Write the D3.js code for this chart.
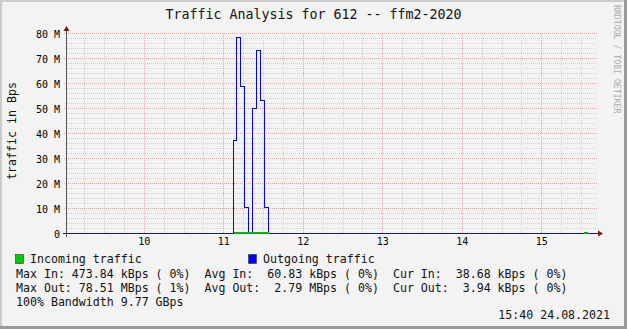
<!DOCTYPE html>
<html>
<head>
<meta charset="utf-8">
<style>
  body { margin: 0; background: #f3f3f3; }
  svg { display: block; font-family: "DejaVu Sans Mono", monospace; }
</style>
</head>
<body>
<svg width="627" height="329"></svg>
<script src="https://cdn.jsdelivr.net/npm/d3@7/dist/d3.min.js"></script>
<script>
// time in minutes since midnight, values in MBps
const timeDomain = [542, 942];
const hourTicks = [600, 660, 720, 780, 840, 900];
const hourLabels = ["10", "11", "12", "13", "14", "15"];
const valueTicks = [0, 10, 20, 30, 40, 50, 60, 70, 80];
const valueLabels = ["0", "10 M", "20 M", "30 M", "40 M", "50 M", "60 M", "70 M", "80 M"];

const outTimes  = [542, 667.6, 669.8, 672.8, 675.8, 678.8, 681.8, 684.9, 687.9, 690.9, 693.9, 942];
const outValues = [0,   37.3,  78.5,  58.8,  10.4,  0,     50.0,  73.2,  53.2,  10.4,  0,     0];

const inTimes  = [542, 667.6, 693.9, 931.5, 934.5, 942];
const inValues = [0,   0.40,  0,     0.47,  0,     0];

const legendRows = [
  "Max In: 473.84 kBps ( 0%)  Avg In:  60.83 kBps ( 0%)  Cur In:  38.68 kBps ( 0%)",
  "Max Out: 78.51 MBps ( 1%)  Avg Out:  2.79 MBps ( 0%)  Cur Out:  3.94 kBps ( 0%)",
  "100% Bandwidth 9.77 GBps"
];

const W = 627, H = 329;
const svg = d3.select("svg");

// background + 3d shade border
svg.append("rect").attr("width", W).attr("height", H).attr("fill", "#f3f3f3");
svg.append("rect").attr("x", 0).attr("y", 0).attr("width", W).attr("height", 2).attr("fill", "#cbcbcb");
svg.append("rect").attr("x", 0).attr("y", 0).attr("width", 2).attr("height", H).attr("fill", "#cbcbcb");
svg.append("rect").attr("x", W - 3).attr("y", 0).attr("width", 3).attr("height", H).attr("fill", "#999");
svg.append("rect").attr("x", 0).attr("y", H - 3).attr("width", W).attr("height", 3).attr("fill", "#999");

const x = d3.scaleLinear().domain(timeDomain).range([67, 597]);
const y = d3.scaleLinear().domain([0, 80]).range([233.5, 33.5]);
const px = t => Math.round(x(t)) + 0.5;

// grid
const grid = svg.append("g").attr("shape-rendering", "crispEdges");
const minorX = d3.range(555, 942, 15).filter(t => t % 60 !== 0);
const minorY = d3.range(2, 81, 2).filter(v => v % 10 !== 0);

grid.selectAll(".mx").data(minorX).join("line")
  .attr("x1", px).attr("x2", px).attr("y1", y(80)).attr("y2", y(0))
  .attr("stroke", "#d0d0d0").attr("stroke-dasharray", "1,1");
grid.selectAll(".my").data(minorY).join("line")
  .attr("x1", 67).attr("x2", 597).attr("y1", d => y(d)).attr("y2", d => y(d))
  .attr("stroke", "#d0d0d0").attr("stroke-dasharray", "1,1");
grid.selectAll(".Mx").data(hourTicks).join("line")
  .attr("x1", px).attr("x2", px).attr("y1", y(80)).attr("y2", y(0))
  .attr("stroke", "#eaa6a6").attr("stroke-dasharray", "1,1");
grid.selectAll(".My").data(valueTicks.slice(1)).join("line")
  .attr("x1", 64).attr("x2", 597).attr("y1", d => y(d)).attr("y2", d => y(d))
  .attr("stroke", "#eaa6a6").attr("stroke-dasharray", "1,1");

// outgoing line
const outData = outTimes.map((t, i) => [t, outValues[i]]);
svg.append("path")
  .datum(outData)
  .attr("fill", "none")
  .attr("stroke", "#0000ff")
  .attr("stroke-width", 1)
  .attr("shape-rendering", "crispEdges")
  .attr("d", d3.line().x(d => px(d[0])).y(d => Math.round(y(d[1]) - 0.5) + 0.5).curve(d3.curveStepAfter));

// axes lines
svg.append("line").attr("x1", 63).attr("x2", 598).attr("y1", 233.5).attr("y2", 233.5)
  .attr("stroke", "#1c1c6c").attr("shape-rendering", "crispEdges");
svg.append("line").attr("x1", 66.5).attr("x2", 66.5).attr("y1", 237).attr("y2", 30)
  .attr("stroke", "#555").attr("shape-rendering", "crispEdges");
// arrows
svg.append("path").attr("d", "M63.5,31 L66.5,26 L69.5,31 Z").attr("fill", "#7f1010");
svg.append("path").attr("d", "M598,230.5 L603,233.5 L598,236.5 Z").attr("fill", "#7f1010");

// incoming area (on top of baseline), at least the height of the baseline pixel pair
const inData = inTimes.map((t, i) => [t, inValues[i]]);
svg.append("path")
  .datum(inData)
  .attr("fill", "#00b400")
  .attr("shape-rendering", "crispEdges")
  .attr("d", d3.area().x(d => Math.round(x(d[0])) + 0.5).y0(234)
    .y1(d => d[1] > 0 ? Math.floor(y(d[1])) : 234).curve(d3.curveStepAfter));

// axis labels
const yAxis = d3.axisLeft(y).tickValues(valueTicks).tickSize(0).tickPadding(0)
  .tickFormat((d, i) => valueLabels[i]);
svg.append("g").attr("transform", "translate(60,0)").call(yAxis)
  .call(g => g.select(".domain").remove())
  .call(g => g.selectAll("text").attr("font-family", "DejaVu Sans Mono").attr("font-size", 10).attr("fill", "#000").attr("dy", "0.35em"));

const xAxis = d3.axisBottom(x).tickValues(hourTicks).tickSize(0).tickPadding(0)
  .tickFormat((d, i) => hourLabels[i]);
svg.append("g").attr("transform", "translate(0,238)").call(xAxis)
  .call(g => g.select(".domain").remove())
  .call(g => g.selectAll("text").attr("font-family", "DejaVu Sans Mono").attr("font-size", 10).attr("fill", "#000"));

// title
svg.append("text").attr("x", 313.5).attr("y", 19).attr("text-anchor", "middle")
  .attr("font-size", 13.3).attr("fill", "#111").text("Traffic Analysis for 612 -- ffm2-2020");

// y title
svg.append("text").attr("transform", "translate(16,131) rotate(-90)").attr("text-anchor", "middle")
  .attr("font-size", 11.6).attr("fill", "#111").text("traffic in Bps");

// watermark
svg.append("text").attr("transform", "translate(614,5) rotate(90)").attr("text-anchor", "start")
  .attr("font-size", 8.2).attr("fill", "#ababab").text("RRDTOOL / TOBI OETIKER");

// legend
const legend = svg.append("g").attr("font-size", 11.6).attr("fill", "#111");
legend.append("rect").attr("x", 15.5).attr("y", 254.5).attr("width", 8).attr("height", 9)
  .attr("fill", "#00cc00").attr("stroke", "#333").attr("stroke-width", 0.6);
legend.append("text").attr("x", 30).attr("y", 263).text("Incoming traffic");
legend.append("rect").attr("x", 248.5).attr("y", 254.5).attr("width", 8).attr("height", 9)
  .attr("fill", "#0000ff").attr("stroke", "#333").attr("stroke-width", 0.6);
legend.append("text").attr("x", 263).attr("y", 263).text("Outgoing traffic");

legend.selectAll(".row").data(legendRows).join("text")
  .attr("x", 16).attr("y", (d, i) => 277.5 + i * 14).attr("xml:space", "preserve")
  .style("white-space", "pre").text(d => d);

legend.append("text").attr("x", 610).attr("y", 319).attr("text-anchor", "end").text("15:40 24.08.2021");
</script>
</body>
</html>
